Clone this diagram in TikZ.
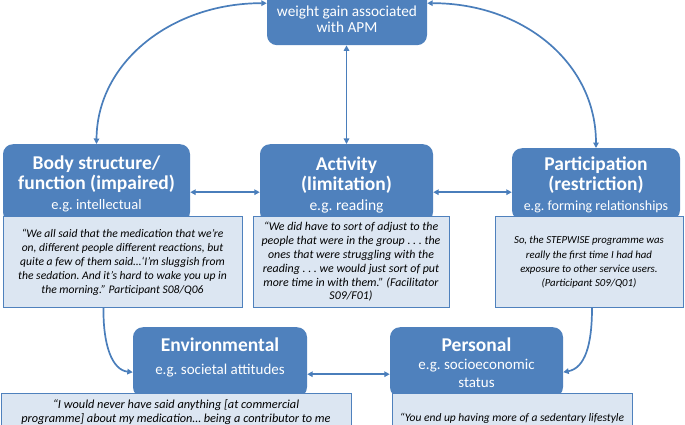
\documentclass[tikz,border=0pt]{standalone}
\usepackage{fontspec}
\setmainfont{Carlito}
\usepackage{tikz}
\usetikzlibrary{arrows.meta, positioning}
\frenchspacing

\definecolor{hdrblue}{HTML}{4F81BD}
\definecolor{quotefill}{HTML}{DCE6F2}
\definecolor{linkblue}{HTML}{4A7EBB}

% smaller second line of a header
\newcommand{\egline}[2][15]{{\fontsize{#1}{20}\selectfont\mdseries #2}}

\tikzset{
  header/.style={rectangle, rounded corners=10pt, fill=hdrblue, text=white,
    anchor=north, inner sep=0pt, align=flush center,
    font=\fontsize{19.5}{20}\selectfont\bfseries},
  quotebox/.style={rectangle, draw=hdrblue, line width=0.9pt, fill=quotefill,
    anchor=north, inner sep=0pt, align=flush center,
    font=\fontsize{11.5}{14}\selectfont\itshape},
  link/.style={linkblue, line width=1.7pt, -{Triangle[length=5.5pt,width=5.5pt]}},
  twoway/.style={link, {Triangle[length=5.5pt,width=5.5pt]}-{Triangle[length=5.5pt,width=5.5pt]}}
}

\begin{document}
\begin{tikzpicture}[x=1pt, y=-1pt]
    \useasboundingbox (0,0) rectangle (685,425);
    \clip (0,0) rectangle (685,425);

    % Top box (cut off at the top)
    \node[header, text width=160pt, text height=46.5pt, text depth=28.5pt,
      font=\fontsize{15.3}{16}\selectfont] (apm) at (347,-30)
      {weight gain associated\\with APM};

    % Three domains in the middle row
    \node[header, text width=187pt, text height=25pt, text depth=53pt] (body) at (96.5,144)
      {Body structure/\\function (impaired)\\\egline[14.5]{e.g. intellectual}};
    \node[header, text width=173pt, text height=26pt, text depth=52pt] (act) at (346.5,144)
      {Activity\\(limitation)\\\egline[15.5]{e.g. reading}};
    \node[header, text width=168pt, text height=22pt, text depth=50pt] (part) at (596,148)
      {Participation\\(restriction)\\\egline[14]{e.g. forming relationships}};

    % Quotes under the domains
    \node[quotebox, text width=239pt, text height=21.5pt, text depth=69.5pt,
      font=\fontsize{11.6}{14}\selectfont\itshape] (bodyq) at (122.5,216)
      {``We all said that the medication that we're\\
       on, different people different reactions, but\\
       quite a few of them said\ldots`I'm sluggish from\\
       the sedation. And it's hard to wake you up in\\
       the morning.'' Participant S08/Q06};
    \node[quotebox, text width=196pt, text height=14.5pt, text depth=76.5pt,
      font=\fontsize{11.9}{13.8}\selectfont\itshape] (actq) at (351,216)
      {``We did have to sort of adjust to the\\
       people that were in the group . . . the\\
       ones that were struggling with the\\
       reading . . . we would just sort of put\\
       more time in with them.'' (Facilitator\\
       S09/F01)};
    \node[quotebox, text width=188pt, text height=27.5pt, text depth=63.5pt,
      font=\fontsize{10.8}{14.3}\selectfont\itshape] (partq) at (589,216)
      {So, the STEPWISE programme was\\
       really the first time I had had\\
       exposure to other service users.\\
       (Participant S09/Q01)};

    % Contextual factors in the bottom row
    \node[header, text width=174pt, text height=24pt, text depth=46pt] (env) at (220,327)
      {Environmental\\[3pt]\egline{e.g. societal attitudes}};
    \node[header, text width=173pt, text height=24pt, text depth=46pt] (pers) at (476.5,327)
      {Personal\\[-2pt]\egline{e.g. socioeconomic}\\[-2pt]\egline{status}};

    \node[quotebox, text width=350pt, text height=15.5pt, text depth=40pt,
      font=\fontsize{12.3}{13.5}\selectfont\itshape] (envq) at (176,393)
      {``I would never have said anything [at commercial\\
       programme] about my medication\ldots\ being a contributor to me};
    \node[quotebox, text width=240pt, text height=28.5pt, text depth=30pt] (persq) at (512,393)
      {``You end up having more of a sedentary lifestyle};

    % Connectors
    \draw[twoway] (body.north) .. controls (97,62) and (172,3) .. ([yshift=4.5pt]apm.west);
    \draw[twoway] ([yshift=4.5pt]apm.east) .. controls (522,3) and (596,62) .. (part.north);
    \draw[twoway] (act.north |- apm.south) -- (act.north);
    \draw[twoway] ([yshift=-9pt]body.east) -- ([yshift=-9pt]act.west);
    \draw[twoway] ([yshift=-9pt]act.east) -- ([yshift=-8pt]part.west);
    \draw[link] ([xshift=-19pt]bodyq.south) .. controls (103,345) and (112,370) .. ([yshift=-10pt]env.west);
    \draw[link] ([xshift=3pt]partq.south) .. controls (592,345) and (585,368) .. ([yshift=-10pt]pers.east);
    \draw[twoway] ([yshift=-12pt]env.east) -- ([yshift=-12pt]pers.west);
\end{tikzpicture}
\end{document}
